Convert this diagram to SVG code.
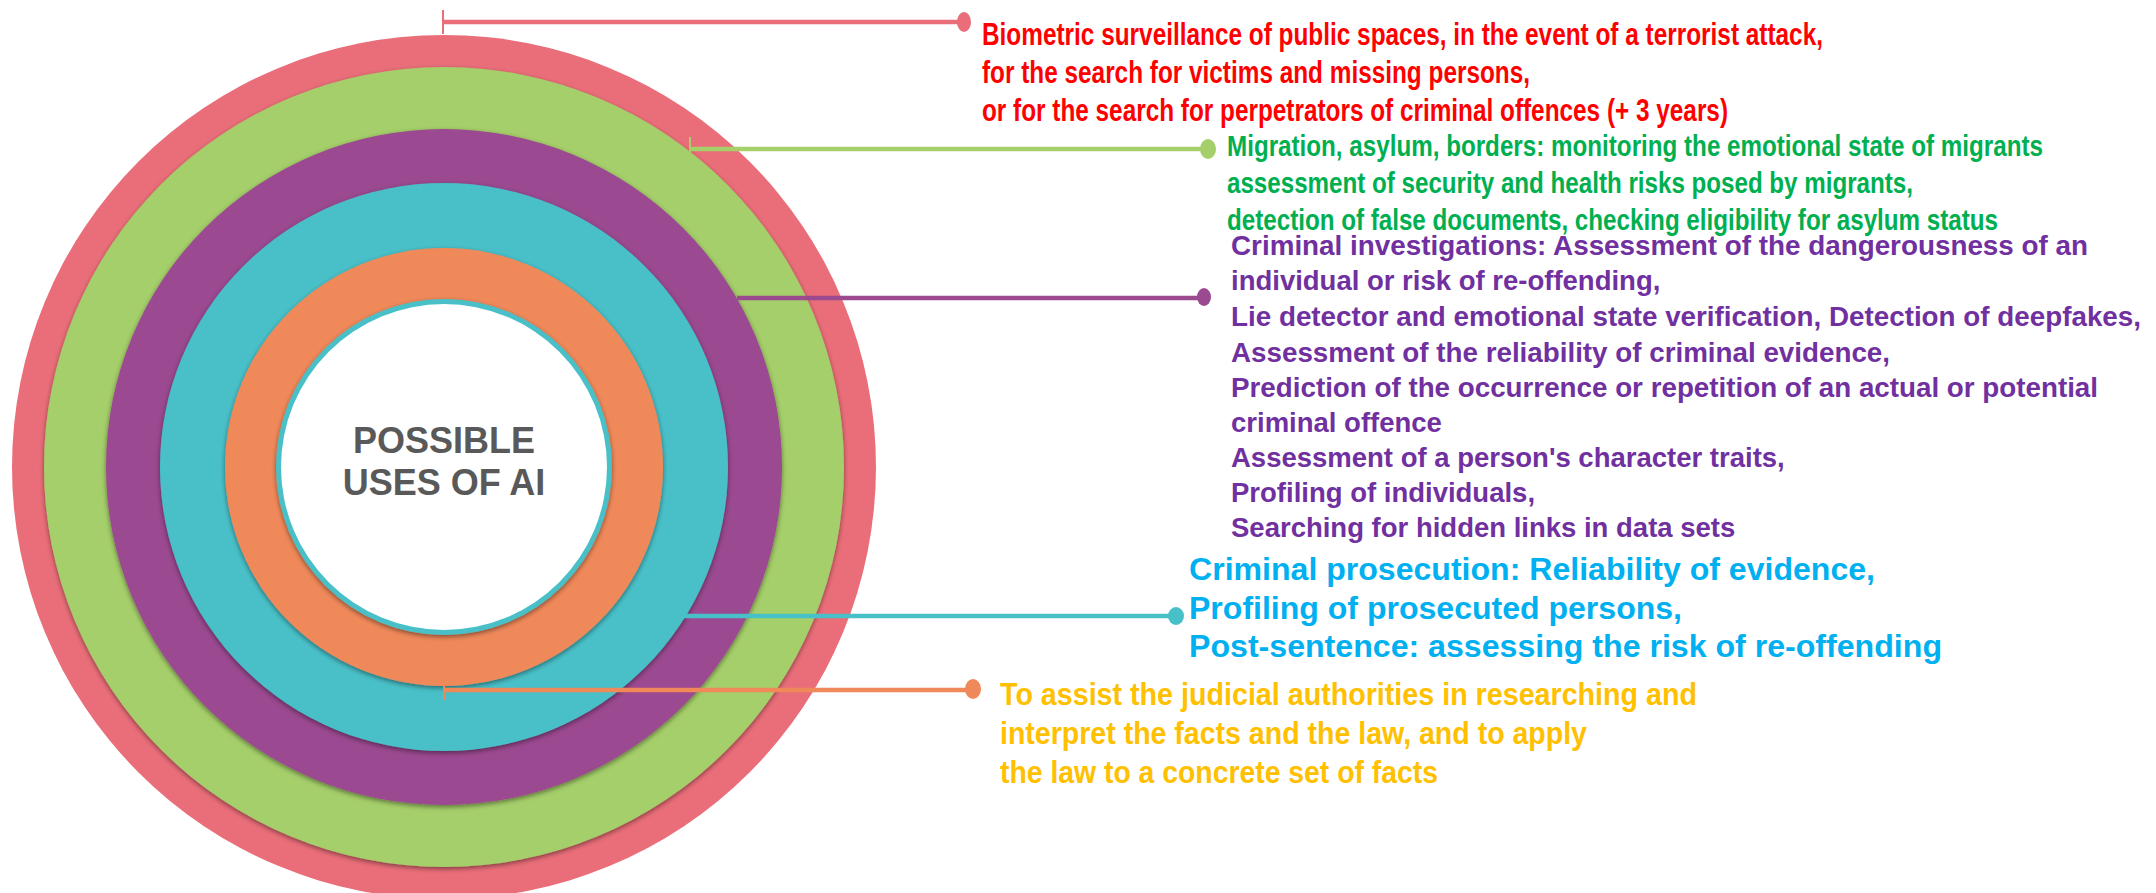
<svg xmlns="http://www.w3.org/2000/svg" width="2156" height="893" viewBox="0 0 2156 893">
  <style>
    .narrow { font-family: "Liberation Sans Narrow", "Liberation Sans", Arial, sans-serif; font-weight: bold; }
    .bold { font-family: "Liberation Sans", Arial, sans-serif; font-weight: bold; }
    .c-red { fill: #FF0000; font-size: 31px; }
    .c-green { fill: #00B050; font-size: 29px; }
    .c-purple { fill: #7030A0; font-size: 27.5px; }
    .c-blue { fill: #00B0F0; font-size: 31.5px; }
    .c-yellow { fill: #FFC000; font-size: 31px; }
    .center { fill: #595959; font-size: 36px; text-anchor: middle; }
    .lead { fill: none; stroke-width: 4.5; }
    .tick { fill: none; stroke-width: 2; }
  </style>
  <defs>
    <filter id="ringShadow" x="-10%" y="-10%" width="120%" height="120%">
      <feDropShadow dx="0" dy="2" stdDeviation="2.5" flood-color="#000" flood-opacity="0.45"/>
    </filter>
  </defs>
  <rect width="2156" height="893" fill="#FFFFFF"/>

  <!-- concentric rings, outermost first -->
  <g id="ring-biometric"><circle cx="444" cy="467" r="432" fill="#EA6E79"/></g>
  <g id="ring-migration"><circle cx="444" cy="467" r="400" fill="#A5CF6A" filter="url(#ringShadow)"/></g>
  <g id="ring-investigation"><circle cx="444" cy="467" r="338" fill="#9B4A90" filter="url(#ringShadow)"/></g>
  <g id="ring-prosecution"><circle cx="444" cy="467" r="284" fill="#48C0C8" filter="url(#ringShadow)"/></g>
  <g id="ring-judicial"><circle cx="444" cy="467" r="219" fill="#F0895A" filter="url(#ringShadow)"/></g>
  <g id="core">
    <circle cx="444" cy="467" r="168" fill="#48C0C8" filter="url(#ringShadow)"/>
    <circle cx="444" cy="467" r="163" fill="#FFFFFF"/>
    <text class="bold center" x="444" y="453">POSSIBLE</text>
    <text class="bold center" x="444" y="495">USES OF AI</text>
  </g>

  <!-- leader lines from rings to labels -->
  <g id="connectors">
    <line class="tick" x1="443" y1="10" x2="443" y2="34" stroke="#EA6E79"/>
    <line class="lead" x1="443" y1="22" x2="962" y2="22" stroke="#EA6E79"/>
    <ellipse cx="964" cy="22" rx="7" ry="10" fill="#EA6E79"/>

    <line class="tick" x1="690" y1="137" x2="690" y2="153" stroke="#A5CF6A"/>
    <line class="lead" x1="690" y1="149" x2="1206" y2="149" stroke="#A5CF6A"/>
    <ellipse cx="1208" cy="149" rx="8" ry="10" fill="#A5CF6A"/>

    <line class="lead" x1="737" y1="298" x2="1202" y2="298" stroke="#9B4A90" stroke-width="3.5"/>
    <ellipse cx="1204" cy="297" rx="7" ry="9" fill="#9B4A90"/>

    <line class="lead" x1="684" y1="616" x2="1174" y2="616" stroke="#48C0C8"/>
    <ellipse cx="1176" cy="616" rx="8" ry="9" fill="#48C0C8"/>

    <line class="tick" x1="444" y1="686" x2="444" y2="700" stroke="#F0895A"/>
    <line class="lead" x1="444" y1="690" x2="971" y2="690" stroke="#F0895A"/>
    <ellipse cx="973" cy="689" rx="8" ry="10" fill="#F0895A"/>
  </g>

  <!-- labels -->
  <g id="label-biometric" class="narrow c-red">
    <text x="982" y="45" textLength="841" lengthAdjust="spacingAndGlyphs">Biometric surveillance of public spaces, in the event of a terrorist attack,</text>
    <text x="982" y="83" textLength="548" lengthAdjust="spacingAndGlyphs">for the search for victims and missing persons,</text>
    <text x="982" y="121" textLength="746" lengthAdjust="spacingAndGlyphs">or for the search for perpetrators of criminal offences (+ 3 years)</text>
  </g>
  <g id="label-migration" class="narrow c-green">
    <text x="1227" y="156" textLength="816" lengthAdjust="spacingAndGlyphs">Migration, asylum, borders: monitoring the emotional state of migrants</text>
    <text x="1227" y="193" textLength="686" lengthAdjust="spacingAndGlyphs">assessment of security and health risks posed by migrants,</text>
    <text x="1227" y="230" textLength="771" lengthAdjust="spacingAndGlyphs">detection of false documents, checking eligibility for asylum status</text>
  </g>
  <g id="label-investigation" class="bold c-purple">
    <text x="1231" y="255" textLength="857" lengthAdjust="spacingAndGlyphs">Criminal investigations: Assessment of the dangerousness of an</text>
    <text x="1231" y="290">individual or risk of re-offending,</text>
    <text x="1231" y="326" textLength="910" lengthAdjust="spacingAndGlyphs">Lie detector and emotional state verification, Detection of deepfakes,</text>
    <text x="1231" y="362" textLength="659" lengthAdjust="spacingAndGlyphs">Assessment of the reliability of criminal evidence,</text>
    <text x="1231" y="397" textLength="867" lengthAdjust="spacingAndGlyphs">Prediction of the occurrence or repetition of an actual or potential</text>
    <text x="1231" y="432">criminal offence</text>
    <text x="1231" y="467">Assessment of a person's character traits,</text>
    <text x="1231" y="502">Profiling of individuals,</text>
    <text x="1231" y="537">Searching for hidden links in data sets</text>
  </g>
  <g id="label-prosecution" class="bold c-blue">
    <text x="1189" y="580" textLength="686" lengthAdjust="spacingAndGlyphs">Criminal prosecution: Reliability of evidence,</text>
    <text x="1189" y="619" textLength="493" lengthAdjust="spacingAndGlyphs">Profiling of prosecuted persons,</text>
    <text x="1189" y="657" textLength="753" lengthAdjust="spacingAndGlyphs">Post-sentence: assessing the risk of re-offending</text>
  </g>
  <g id="label-judicial" class="narrow c-yellow">
    <text x="1000" y="705" textLength="697" lengthAdjust="spacingAndGlyphs">To assist the judicial authorities in researching and</text>
    <text x="1000" y="744" textLength="587" lengthAdjust="spacingAndGlyphs">interpret the facts and the law, and to apply</text>
    <text x="1000" y="783" textLength="438" lengthAdjust="spacingAndGlyphs">the law to a concrete set of facts</text>
  </g>
</svg>
